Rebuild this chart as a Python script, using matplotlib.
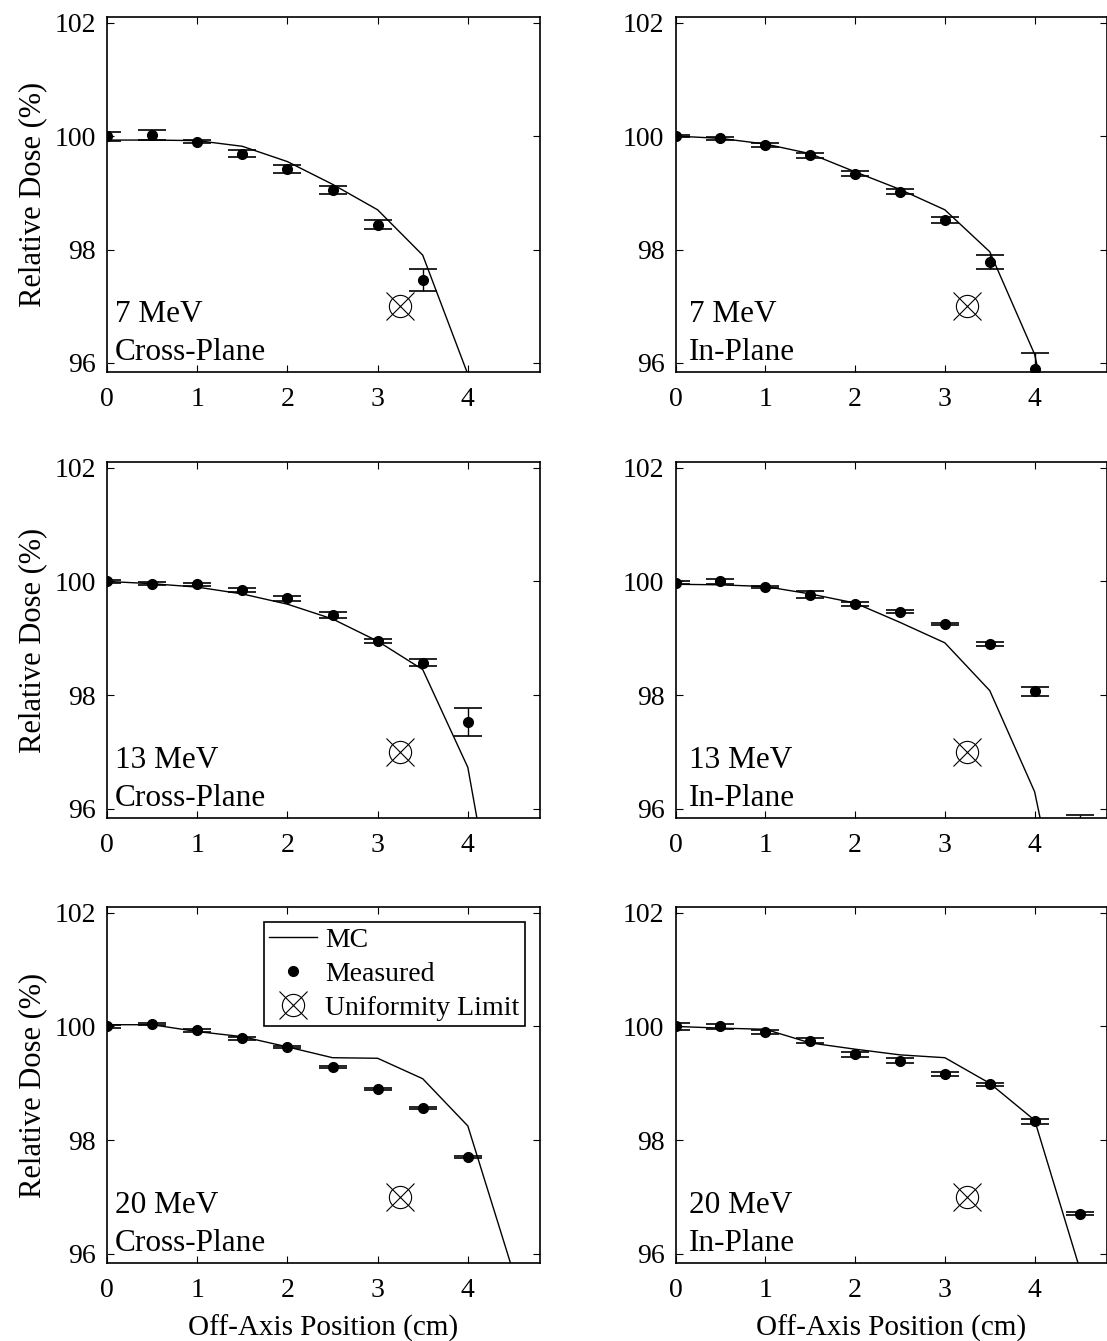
import numpy as np
import matplotlib
matplotlib.use('Agg')
import matplotlib.pyplot as plt

plt.rcParams['font.family'] = ['Liberation Serif', 'DejaVu Serif']
plt.rcParams['mathtext.fontset'] = 'stix'

# Monte Carlo profiles (sampled every 0.5 cm)
mc_x = [0, 0.5, 1.0, 1.5, 2.0, 2.5, 3.0, 3.5, 4.0, 4.5]
mc_7_cross = [99.93, 99.93, 99.92, 99.82, 99.55, 99.15, 98.70, 97.90, 95.80, 92.0]
mc_7_in = [100.0, 99.96, 99.86, 99.69, 99.37, 99.06, 98.70, 97.96, 96.15, 92.5]
mc_13_cross = [100.0, 99.96, 99.90, 99.78, 99.60, 99.34, 98.95, 98.45, 96.73, 92.3]
mc_13_in = [99.95, 99.94, 99.91, 99.78, 99.62, 99.28, 98.92, 98.08, 96.30, 92.5]
mc_20_cross = [100.03, 100.03, 99.91, 99.82, 99.64, 99.45, 99.44, 99.08, 98.25, 95.70]
mc_20_in = [100.0, 99.97, 99.95, 99.71, 99.60, 99.50, 99.45, 99.00, 98.35, 95.75]

# Measured profiles with uncertainty
meas_x_7c = [0, 0.5, 1.0, 1.5, 2.0, 2.5, 3.0, 3.5]
meas_7_cross = [100.0, 100.02, 99.90, 99.69, 99.42, 99.05, 98.44, 97.46]
err_7_cross = [0.08, 0.09, 0.03, 0.06, 0.07, 0.07, 0.08, 0.20]

meas_x_7i = [0, 0.5, 1.0, 1.5, 2.0, 2.5, 3.0, 3.5, 4.0]
meas_7_in = [100.0, 99.96, 99.84, 99.66, 99.34, 99.02, 98.52, 97.78, 95.90]
err_7_in = [0.02, 0.03, 0.03, 0.05, 0.04, 0.04, 0.05, 0.12, 0.27]

meas_x_13c = [0, 0.5, 1.0, 1.5, 2.0, 2.5, 3.0, 3.5, 4.0]
meas_13_cross = [100.0, 99.96, 99.95, 99.85, 99.70, 99.41, 98.95, 98.57, 97.53]
err_13_cross = [0.02, 0.03, 0.03, 0.04, 0.04, 0.05, 0.03, 0.06, 0.25]

meas_x_13i = [0, 0.5, 1.0, 1.5, 2.0, 2.5, 3.0, 3.5, 4.0, 4.5]
meas_13_in = [99.98, 100.0, 99.90, 99.77, 99.60, 99.47, 99.25, 98.90, 98.07, 95.65]
err_13_in = [0.03, 0.04, 0.02, 0.06, 0.03, 0.03, 0.02, 0.03, 0.08, 0.25]

meas_x_20c = [0, 0.5, 1.0, 1.5, 2.0, 2.5, 3.0, 3.5, 4.0]
meas_20_cross = [100.0, 100.04, 99.93, 99.79, 99.64, 99.29, 98.90, 98.57, 97.71]
err_20_cross = [0.02, 0.02, 0.02, 0.02, 0.02, 0.02, 0.02, 0.02, 0.02]

meas_x_20i = [0, 0.5, 1.0, 1.5, 2.0, 2.5, 3.0, 3.5, 4.0, 4.5]
meas_20_in = [100.0, 100.0, 99.90, 99.75, 99.51, 99.40, 99.16, 98.98, 98.33, 96.71]
err_20_in = [0.06, 0.05, 0.04, 0.05, 0.04, 0.04, 0.03, 0.03, 0.04, 0.03]

# uniformity limit point
uni_x = 3.25
uni_y = 97.0

energies = ['7 MeV', '7 MeV', '13 MeV', '13 MeV', '20 MeV', '20 MeV']
planes = ['Cross-Plane', 'In-Plane'] * 3
mc_all = [mc_7_cross, mc_7_in, mc_13_cross, mc_13_in, mc_20_cross, mc_20_in]
mx_all = [meas_x_7c, meas_x_7i, meas_x_13c, meas_x_13i, meas_x_20c, meas_x_20i]
my_all = [meas_7_cross, meas_7_in, meas_13_cross, meas_13_in, meas_20_cross, meas_20_in]
me_all = [err_7_cross, err_7_in, err_13_cross, err_13_in, err_20_cross, err_20_in]

W, H = 1107, 1341
fig = plt.figure(figsize=(W / 100, H / 100), dpi=100)

col_left = [107 / W, 675.5 / W]
col_w = [433 / W, 431 / W]
row_top = [17, 462, 907]
row_bot = [372, 818, 1263]
text_x = [0.019, 0.032]

for i in range(6):
    r, c = i // 2, i % 2
    ax = fig.add_axes([col_left[c], 1 - row_bot[r] / H, col_w[c],
                       (row_bot[r] - row_top[r]) / H])

    h_mc, = ax.plot(mc_x, mc_all[i], color='black', lw=1.0, label='MC')
    ax.errorbar(mx_all[i], my_all[i], yerr=me_all[i], fmt='none',
                ecolor='black', elinewidth=1.0, capsize=10, capthick=1.2)
    h_meas, = ax.plot(mx_all[i], my_all[i], 'o', color='black', ms=7,
                      ls='none', label='Measured')
    h_c, = ax.plot(uni_x, uni_y, 'o', mfc='none', mec='black', ms=16, mew=0.8)
    h_x, = ax.plot(uni_x, uni_y, 'x', color='black', ms=20, mew=0.8)

    ax.set_xlim(0, 4.8)
    ax.set_ylim(95.84, 102.1)
    ax.set_xticks([0, 1, 2, 3, 4])
    ax.set_yticks([96, 98, 100, 102])
    ax.tick_params(direction='in', top=True, right=True, length=5,
                   width=0.8, labelsize=20, pad=8)
    ax.tick_params(axis='x', pad=11)
    for s in ax.spines.values():
        s.set_linewidth(1.2)

    ax.text(text_x[c], 0.14, energies[i], transform=ax.transAxes,
            fontsize=22.5, ha='left', va='baseline')
    ax.text(text_x[c], 0.034, planes[i], transform=ax.transAxes,
            fontsize=22.5, ha='left', va='baseline')

    if c == 0:
        ax.set_ylabel('Relative Dose (%)', fontsize=22, labelpad=5.5)
    if r == 2:
        ax.set_xlabel('Off-Axis Position (cm)', fontsize=21, labelpad=8)

    if i == 4:
        leg = ax.legend([h_mc, h_meas, (h_c, h_x)],
                        ['MC', 'Measured', 'Uniformity Limit'],
                        loc='upper right', bbox_to_anchor=(0.965, 0.958),
                        borderaxespad=0, fontsize=20, frameon=True,
                        fancybox=False, edgecolor='black', framealpha=1,
                        handlelength=1.7, handletextpad=0.3,
                        borderpad=0.2, labelspacing=0.3)
        leg.get_frame().set_linewidth(1.2)

fig.savefig('out.png', dpi=100)
